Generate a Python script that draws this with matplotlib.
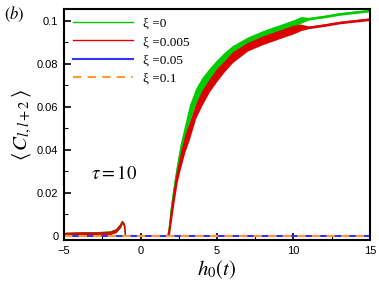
import numpy as np
import matplotlib
matplotlib.use("Agg")
import matplotlib.pyplot as plt
from matplotlib.ticker import MultipleLocator, FixedFormatter, FixedLocator

plt.rcParams['mathtext.fontset'] = 'stix'

# values (knots of each curve)
h0 = [-5, -4, -3, -2, -1.6, -1.3, -1.2, -1.05, -0.98, 1.8, 1.9, 2.0, 2.2, 2.4, 2.6,
      2.9, 3.2, 3.6, 4.0, 4.5, 5.0, 5.5, 6.0, 7.0, 8.0, 9.0, 10.0, 10.5, 11, 12, 13, 14, 15]
c_xi0 = [0.001, 0.0012, 0.0013, 0.0015, 0.0025, 0.005, 0.0065, 0.005, 0.0, 0.0, 0.005, 0.012,
         0.022, 0.031, 0.039, 0.048, 0.057, 0.065, 0.070, 0.075, 0.079, 0.083, 0.086, 0.0905,
         0.0935, 0.096, 0.0985, 0.1005, 0.101, 0.102, 0.1032, 0.104, 0.1048]
c_xi005 = [0.001, 0.0012, 0.0013, 0.0015, 0.0025, 0.005, 0.0065, 0.005, 0.0, 0.0, 0.004, 0.010,
           0.020, 0.029, 0.035, 0.043, 0.049, 0.058, 0.064, 0.070, 0.075, 0.079, 0.083, 0.088,
           0.091, 0.0935, 0.096, 0.097, 0.097, 0.098, 0.0992, 0.100, 0.1008]
# half width of the noisy band
noise = [0.0007, 0.0007, 0.0007, 0.0008, 0.0009, 0.001, 0.0008, 0.0008, 0.0, 0.0, 0.003, 0.004,
         0.004, 0.004, 0.004, 0.004, 0.004, 0.0035, 0.0035, 0.003, 0.003, 0.0025, 0.0025, 0.002,
         0.002, 0.002, 0.002, 0.0015, 0.0006, 0.0006, 0.0006, 0.0006, 0.0006]
c_xi05 = [0.0, 0.0]
c_xi1 = [0.0, 0.0]
h0_flat = [-5, 15]

xt = [-5, 0, 5, 10, 15]
yt = [0, 0.02, 0.04, 0.06, 0.08, 0.1]
ytl = ['0', '0.02', '0.04', '0.06', '0.08', '0.1']

fig = plt.figure(figsize=(3.79, 2.92), dpi=100)
ax = fig.add_axes([0.169, 0.178, 0.807, 0.791])

g = np.array(c_xi0)
r = np.array(c_xi005)
n = np.array(noise)
ax.fill_between(h0, g - n, g + n, color='#00cc00', lw=0)
ax.plot(h0, c_xi0, color='#00cc00', lw=1.0, label='ξ =0')
ax.fill_between(h0, r - n, r + n, color='#dd0000', lw=0)
ax.plot(h0, c_xi005, color='#dd0000', lw=1.0, label='ξ =0.005')
ax.plot(h0_flat, c_xi05, color='#3333ff', lw=1.5, label='ξ =0.05')
ax.plot(h0_flat, c_xi1, color='#ff9933', lw=1.5, ls=(0, (4, 3)), label='ξ =0.1')

ax.set_xlim(-5, 15)
ax.set_ylim(-0.0019, 0.1055)
ax.xaxis.set_major_locator(FixedLocator(xt))
ax.xaxis.set_minor_locator(MultipleLocator(2.5))
ax.yaxis.set_major_locator(FixedLocator(yt))
ax.yaxis.set_major_formatter(FixedFormatter(ytl))
ax.yaxis.set_minor_locator(MultipleLocator(0.01))
ax.tick_params(which='both', direction='in', labelsize=8, width=1.2, pad=4)
ax.tick_params(which='major', length=5)
ax.tick_params(which='minor', length=3, width=0.8)
for lab in ax.get_xticklabels() + ax.get_yticklabels():
    lab.set_fontfamily('Liberation Sans')
for s in ax.spines.values():
    s.set_linewidth(1.5)

leg = ax.legend(loc='upper left', frameon=False, handlelength=4.6,
                prop={'family': 'Liberation Serif', 'size': 9.5},
                labelspacing=0.45, borderaxespad=0.25, handletextpad=0.7)

ax.set_xlabel(r'$h_0(t)$', fontsize=15, labelpad=2)
ax.set_ylabel(r'$\langle\, C_{l,l+2} \,\rangle$', fontsize=15, labelpad=2)
ax.text(-3.25, 0.0265, r'$\tau = \mathit{10}$', fontsize=13.5)
fig.text(0.01, 0.935, r'$(b)$', fontsize=12)

fig.savefig('out.png', dpi=100)
